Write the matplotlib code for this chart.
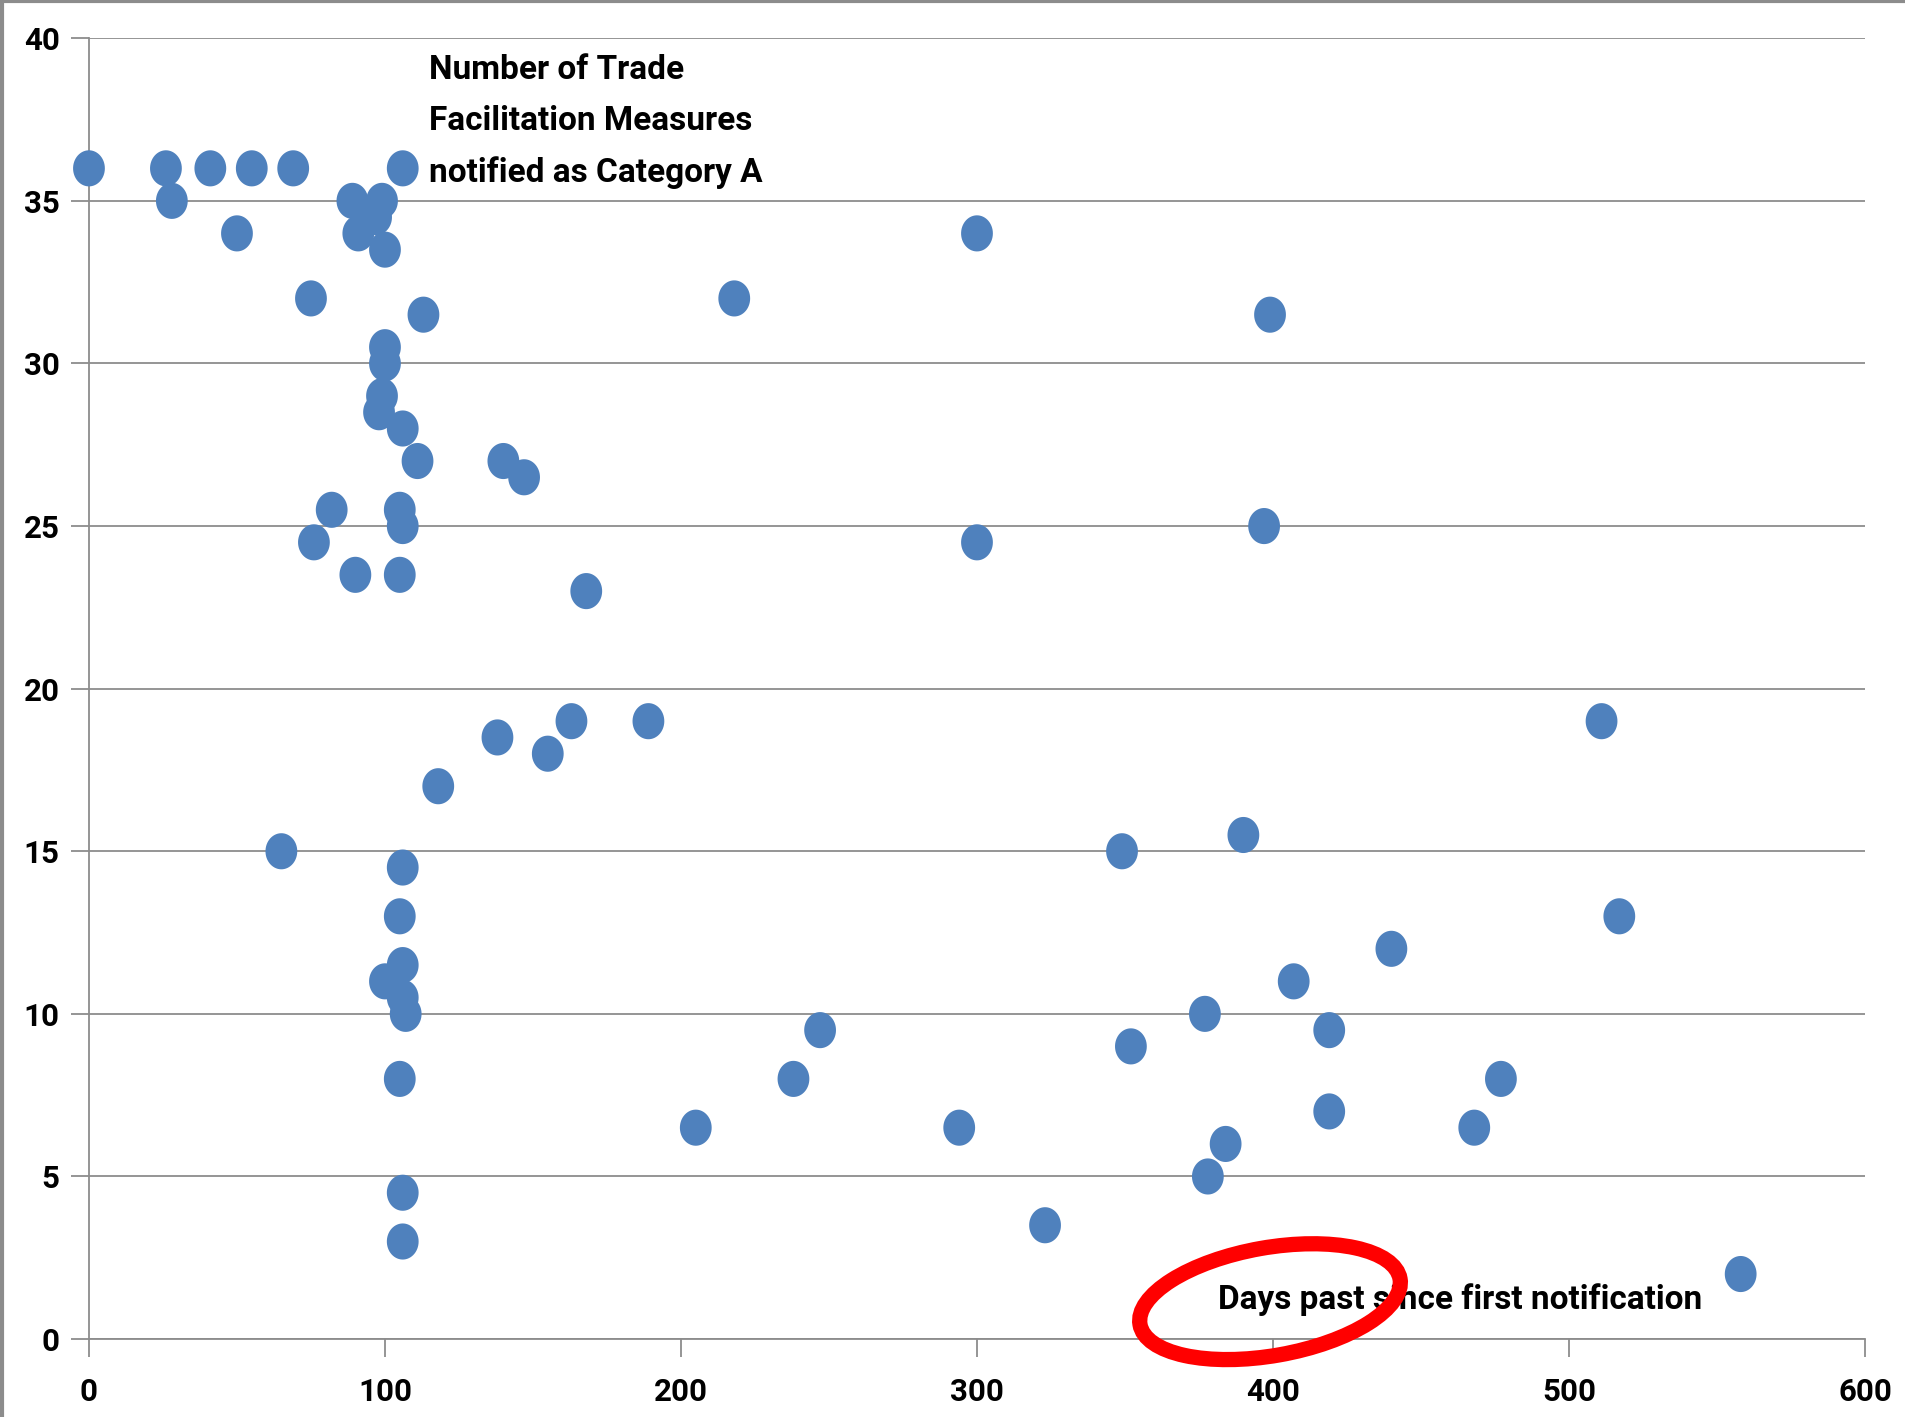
import matplotlib
matplotlib.use("Agg")
import matplotlib.pyplot as plt
import matplotlib.transforms as mtransforms
from matplotlib.patches import Ellipse
from matplotlib.path import Path
from matplotlib.lines import Line2D
import numpy as np

# days since first notification vs. number of measures notified as category A
days = [0, 26, 41, 55, 69, 106, 28, 50, 89, 99, 97, 91, 100, 75, 113,
        100, 100, 99, 98, 106, 111, 140, 147, 82, 105, 106, 76, 90, 105, 168,
        218, 300, 399, 300, 397, 189, 163, 138, 155, 118, 65, 106, 105, 106,
        100, 106, 107, 105, 106, 106, 205, 238, 247, 294, 323, 349, 352, 390,
        377, 384, 378, 407, 419, 419, 440, 468, 477, 511, 517, 558]
measures = [36, 36, 36, 36, 36, 36, 35, 34, 35, 35, 34.5, 34, 33.5, 32, 31.5,
            30.5, 30, 29, 28.5, 28, 27, 27, 26.5, 25.5, 25.5, 25, 24.5, 23.5, 23.5, 23,
            32, 34, 31.5, 24.5, 25, 19, 19, 18.5, 18, 17, 15, 14.5, 13, 11.5,
            11, 10.5, 10, 8, 4.5, 3, 6.5, 8, 9.5, 6.5, 3.5, 15, 9, 15.5,
            10, 6, 5, 11, 9.5, 7, 12, 6.5, 8, 19, 13, 2]

x_ticks = [0, 100, 200, 300, 400, 500, 600]
y_ticks = [0, 5, 10, 15, 20, 25, 30, 35, 40]

title_text = "Number of Trade\nFacilitation Measures\nnotified as Category A"
xlabel_text = "Days past since first notification"

plt.rcParams["font.family"] = ["Roboto", "Liberation Sans", "DejaVu Sans"]

fig = plt.figure(figsize=(19.05, 14.17), dpi=100)
ax = fig.add_axes([0.0467, 0.055, 0.9323, 0.918])

# slightly tall ellipse marker like the Excel original
t = np.linspace(0, 2 * np.pi, 60)
oval = Path(np.column_stack([0.44 * np.cos(t), 0.5 * np.sin(t)]), closed=True)
ax.scatter(days, measures, marker=oval, s=26 ** 2, color="#4F81BD",
           edgecolors="none", zorder=3, clip_on=False)

ax.set_xlim(0, 600)
ax.set_ylim(0, 40)
ax.set_xticks(x_ticks)
ax.set_yticks(y_ticks)
ax.grid(axis="y", color="#8C8C8C", linewidth=1.3)
ax.set_axisbelow(True)
for side in ["top", "right"]:
    ax.spines[side].set_visible(False)
for side in ["left", "bottom"]:
    ax.spines[side].set_color("#8C8C8C")
    ax.spines[side].set_linewidth(1.3)
ax.tick_params(axis="both", colors="#8C8C8C", width=1.3, length=13,
               labelcolor="black", labelsize=22.5)
ax.tick_params(axis="x", pad=14)
ax.tick_params(axis="y", pad=8)
for lbl in ax.get_xticklabels() + ax.get_yticklabels():
    lbl.set_fontweight("bold")

ax.text(115, 37.43, title_text, fontsize=24, fontweight="bold",
        ha="left", va="center", linespacing=1.75)
ax.text(381.5, 1.2, xlabel_text, fontsize=24, fontweight="bold",
        ha="left", va="center")

# red hand-drawn style circle around the axis label
anchor = fig.dpi_scale_trans + mtransforms.ScaledTranslation(399, 1.15, ax.transData)
ring = Ellipse((0, 0), width=2.64, height=1.08, angle=10, transform=anchor,
               fill=False, edgecolor="#FF0000", linewidth=11, clip_on=False, zorder=4)
ax.add_patch(ring)

# grey frame on left and top edges of the picture
fig.add_artist(Line2D([0.001, 0.001], [0, 1], transform=fig.transFigure,
                      color="#8C8C8C", linewidth=3))
fig.add_artist(Line2D([0, 1], [0.999, 0.999], transform=fig.transFigure,
                      color="#8C8C8C", linewidth=3))

fig.savefig("out.png", dpi=100)
